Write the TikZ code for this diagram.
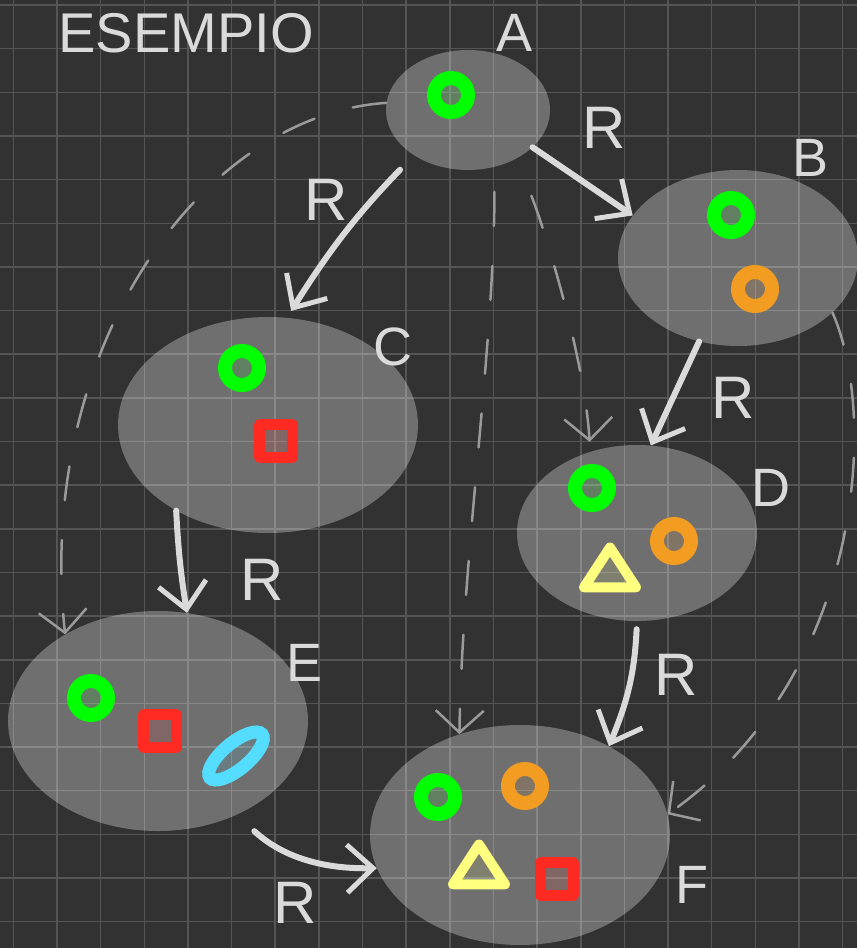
\documentclass[tikz,border=0pt]{standalone}
\usepackage{fontspec}
\setmainfont{Liberation Sans}
\usetikzlibrary{shapes.geometric,arrows.meta}
\definecolor{board}{HTML}{323232}
\definecolor{gridln}{HTML}{555555}
\definecolor{chalk}{HTML}{DADADA}
\definecolor{dashln}{HTML}{9A9A9A}
\definecolor{mkgreen}{HTML}{00FF00}
\definecolor{mkorange}{HTML}{F39C22}
\definecolor{mkred}{HTML}{FF2A22}
\definecolor{mkyellow}{HTML}{FFFF80}
\definecolor{mkcyan}{HTML}{55DDFF}
\tikzset{
  blob/.style={ellipse, fill=white, fill opacity=0.3, inner sep=0pt},
  ring/.style={circle, draw=#1, line width=14pt, fill=#1, fill opacity=0.12, minimum size=34pt, inner sep=0pt},
  sqmark/.style={rectangle, draw=mkred, line width=10.5pt, line join=round, fill=mkred, fill opacity=0.12, minimum size=33pt, inner sep=0pt},
  trimark/.style={regular polygon, regular polygon sides=3, draw=mkyellow, line width=10pt, line join=round, fill=mkyellow, fill opacity=0.12, minimum size=53pt, inner sep=0pt, xscale=1.13, transform shape},
  ovalmark/.style={ellipse, draw=mkcyan, line width=13pt, fill=mkcyan, fill opacity=0.12, minimum width=68pt, minimum height=26pt, inner sep=0pt, rotate=40},
  lbl/.style={text=chalk, font=\fontsize{54}{54}\selectfont, inner sep=0pt},
  rlbl/.style={text=chalk, font=\fontsize{60}{60}\selectfont, inner sep=0pt},
  rel/.style={draw=chalk, line width=6pt, line cap=round, -{Straight Barb[length=26pt,width=48pt,line width=5pt]}},
  hint/.style={draw=dashln, line width=2.5pt, line cap=round, dash pattern=on 34pt off 40pt, -{Straight Barb[length=22pt,width=48pt,line width=2.5pt]}},
}
\begin{document}
\begin{tikzpicture}[x=1pt, y=-1pt]
  \useasboundingbox (0,0) rectangle (857,948);
  \fill[board] (0,0) rectangle (857,948);
  % grid
  \foreach \k in {0,...,19}
    \draw[gridln, line width=1.5pt] ({13.3+43.65*\k},0) -- ({13.3+43.65*\k},948);
  \foreach \k in {0,...,21}
    \draw[gridln, line width=1.5pt] (0,{5+43.65*\k}) -- (857,{5+43.65*\k});
  % sets
  \node[blob, minimum width=164pt, minimum height=120pt] (A) at (468,110) {};
  \node[blob, minimum width=240pt, minimum height=176pt] (B) at (738,258) {};
  \node[blob, minimum width=300pt, minimum height=216pt] (C) at (268,425) {};
  \node[blob, minimum width=240pt, minimum height=176pt] (D) at (637,533) {};
  \node[blob, minimum width=300pt, minimum height=220pt] (E) at (158,721) {};
  \node[blob, minimum width=300pt, minimum height=220pt] (F) at (520,835) {};
  % elements
  \node[ring=mkgreen] (gA) at (451,95) {};
  \node[ring=mkgreen] (gB) at (731,215) {};
  \node[ring=mkorange] (oB) at (755,289) {};
  \node[ring=mkgreen] (gC) at (242,368) {};
  \node[sqmark] (rC) at (276,441) {};
  \node[ring=mkgreen] (gD) at (592,488) {};
  \node[ring=mkorange] (oD) at (674,541) {};
  \node[trimark] (yD) at (610,574) {};
  \node[ring=mkgreen] (gE) at (91,698) {};
  \node[sqmark] (rE) at (160,731) {};
  \node[ovalmark] (cE) at (236,756) {};
  \node[ring=mkgreen] (gF) at (438,797) {};
  \node[ring=mkorange] (oF) at (525,786) {};
  \node[trimark] (yF) at (479,871) {};
  \node[sqmark] (rF) at (557,879) {};
  % names
  \node[lbl, font=\fontsize{56}{56}\selectfont] (title) at (186,33) {ESEMPIO};
  \node[lbl] (labA) at (515,33) {A};
  \node[lbl] (labB) at (810,158) {B};
  \node[lbl] (labC) at (393,347) {C};
  \node[lbl] (labD) at (771,488) {D};
  \node[lbl] (labE) at (305,663) {E};
  \node[lbl] (labF) at (692,885) {F};
  % relation steps
  \draw[rel] (A.-30) -- (B.158);
  \draw[rel, shorten <=20pt, shorten >=8pt] (A.220) to[bend right=6] (C.80);
  \draw[rel] (B.245) -- (D.81);
  \draw[rel] (C.223) to[bend right=3] (E.75);
  \draw[rel, shorten <=8pt] (D.270) to[bend left=10] (F.45);
  \draw[rel, shorten <=24pt] (E.-50) to[bend right=22] (F.193);
  \node[rlbl] (rAB) at (604,128) {R};
  \node[rlbl] (rAC) at (326,200) {R};
  \node[rlbl] (rBD) at (733,398) {R};
  \node[rlbl] (rCE) at (262,580) {R};
  \node[rlbl] (rDF) at (676,675) {R};
  \node[rlbl] (rEF) at (295,903) {R};
  % closure (dashed)
  \draw[hint] (A.175) .. controls (200,115) and (35,350) .. (E.137);
  \draw[hint, shorten <=25pt] (A.-65) .. controls (494,350) and (462,560) .. (F.121);
  \draw[hint, shorten <=40pt, shorten >=10pt] (A.-45) .. controls (545,230) and (585,360) .. (D.120);
  \draw[hint] (B.-30) .. controls (880,420) and (860,680) .. (F.8);
\end{tikzpicture}
\end{document}
